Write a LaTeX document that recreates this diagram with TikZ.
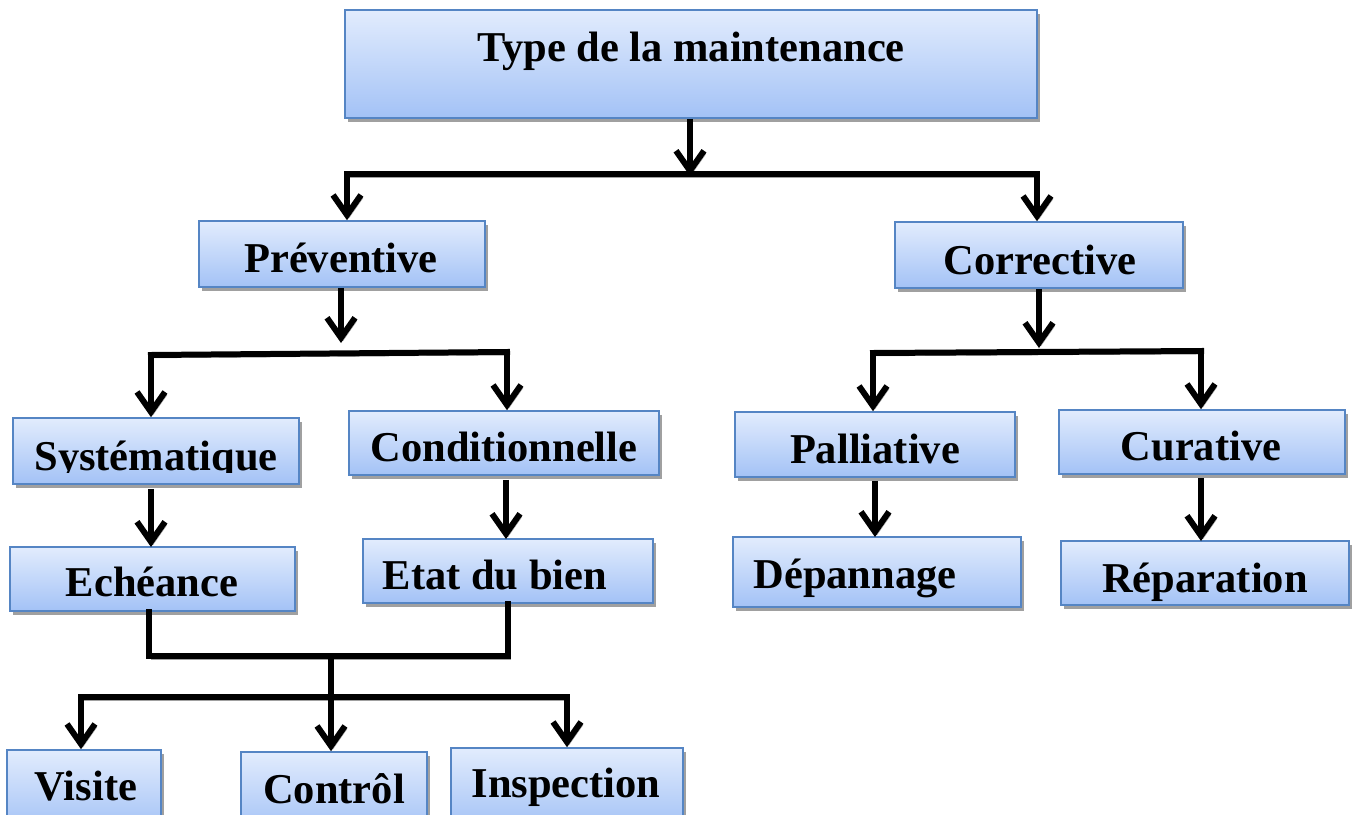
\documentclass[tikz,border=0pt]{standalone}
\usepackage{fontspec}
\setmainfont{Liberation Serif}
\usetikzlibrary{arrows.meta,shadows}
\definecolor{boxtop}{HTML}{E2ECFD}
\definecolor{boxbot}{HTML}{A3C2F6}
\definecolor{boxline}{HTML}{5585C4}
\definecolor{shad}{HTML}{A0A0A0}
\begin{document}
\begin{tikzpicture}[x=1pt,y=-1pt,
  mbox/.style={rectangle, draw=boxline, line width=1.6pt, top color=boxtop, bottom color=boxbot,
    drop shadow={shadow xshift=3pt, shadow yshift=-4pt, fill=shad, opacity=1}, inner sep=0pt},
  lbl/.style={anchor=base, inner sep=0pt, font=\bfseries\fontsize{42.5}{48}\selectfont},
  ln/.style={line width=6pt, line cap=rect,
    preaction={draw=shad, transform canvas={shift={(2pt,-3pt)}}}},
  conn/.style={ln, line cap=butt, -{Straight Barb[length=20pt,width=28pt,line width=6pt]}}
]
\useasboundingbox (0,0) rectangle (1354,814);

% boxes
\node[mbox, minimum width=692pt, minimum height=108pt] (top)  at (691,64)  {};
\node[mbox, minimum width=286pt, minimum height=66pt]  (prev) at (342,254) {};
\node[mbox, minimum width=288pt, minimum height=66pt]  (corr) at (1039,255) {};
\node[mbox, minimum width=286pt, minimum height=66pt]  (syst) at (156,451) {};
\node[mbox, minimum width=310pt, minimum height=64pt]  (cond) at (504,443) {};
\node[mbox, minimum width=280pt, minimum height=65pt]  (pall) at (875,444.5) {};
\node[mbox, minimum width=286pt, minimum height=64pt]  (cura) at (1202,442) {};
\node[mbox, minimum width=285pt, minimum height=64pt]  (eche) at (152.5,579) {};
\node[mbox, minimum width=290pt, minimum height=64pt]  (etat) at (508,571) {};
\node[mbox, minimum width=288pt, minimum height=70pt]  (depa) at (877,572) {};
\node[mbox, minimum width=288pt, minimum height=64pt]  (repa) at (1205,573) {};
\node[mbox, minimum width=154pt, minimum height=80pt]  (visi) at (84,790) {};
\node[mbox, minimum width=186pt, minimum height=80pt]  (cont) at (334,792) {};
\node[mbox, minimum width=232pt, minimum height=80pt]  (insp) at (567,788) {};

% texts
\node[lbl] (topt)  at (691,61)  {Type de la maintenance};
\node[lbl] (prevt) at (341,272) {Préventive};
\node[lbl] (corrt) at (1040,274) {Corrective};
\begin{scope}
\clip (0,400) rectangle (320,472);
\node[lbl] (systt) at (156,470) {Systématique};
\end{scope}
\node[lbl] (condt) at (504,461) {Conditionnelle};
\node[lbl] (pallt) at (875,463) {Palliative};
\node[lbl] (curat) at (1201,460) {Curative};
\node[lbl] (echet) at (152,596) {Echéance};
\node[lbl] (etatt) at (495,589) {Etat du bien};
\node[lbl] (depat) at (855,588) {Dépannage};
\node[lbl] (repat) at (1205,592) {Réparation};
\node[lbl] (visit) at (86,800) {Visite};
\node[lbl] (contt) at (334,803) {Contrôl};
\node[lbl] (inspt) at (566,797) {Inspection};

% junction coordinates
\coordinate (j1) at (690,176);
\coordinate (l1) at (347,174);
\coordinate (r1) at (1037,174);
\coordinate (j2) at (341,343);
\coordinate (l2) at (151,355);
\coordinate (r2) at (507,352);
\coordinate (j3) at (1039,348);
\coordinate (l3) at (873,353);
\coordinate (r3) at (1201,351);
\coordinate (l4) at (149,656);
\coordinate (r4) at (508,656);
\coordinate (m4) at (331,656);
\coordinate (l5) at (81,697);
\coordinate (r5) at (567,697);

% connectors
\draw[conn] (top.south -| j1) -- (j1);
\draw[ln] (l1) -- (r1);
\draw[conn] (l1) -- (l1 |- prev.north);
\draw[conn] (r1) -- (r1 |- corr.north);

\draw[conn] (prev.south -| j2) -- (j2);
\draw[ln] (l2) -- (r2);
\draw[conn] (l2) -- (l2 |- syst.north);
\draw[conn] (r2) -- (r2 |- cond.north);

\draw[conn] (corr.south -| j3) -- (j3);
\draw[ln] (l3) -- (r3);
\draw[conn] (l3) -- (l3 |- pall.north);
\draw[conn] (r3) -- (r3 |- cura.north);

\draw[conn] ([yshift=-4pt]syst.south -| 151,0) -- (151,547);
\draw[conn] ([yshift=-4pt]cond.south -| 506,0) -- (506,539);
\draw[conn] ([yshift=-3pt]pall.south -| 875,0) -- (875,537);
\draw[conn] ([yshift=-3pt]cura.south -| 1201,0) -- (1201,541);

\draw[ln] (eche.south -| l4) -- (l4) -- (r4) -- (etat.south -| r4);
\draw[ln] (l5) -- (r5);
\draw[conn] (m4) -- (m4 |- cont.north);
\draw[conn] (l5) -- (l5 |- visi.north);
\draw[conn] (r5) -- (r5 |- insp.north);
\end{tikzpicture}
\end{document}
